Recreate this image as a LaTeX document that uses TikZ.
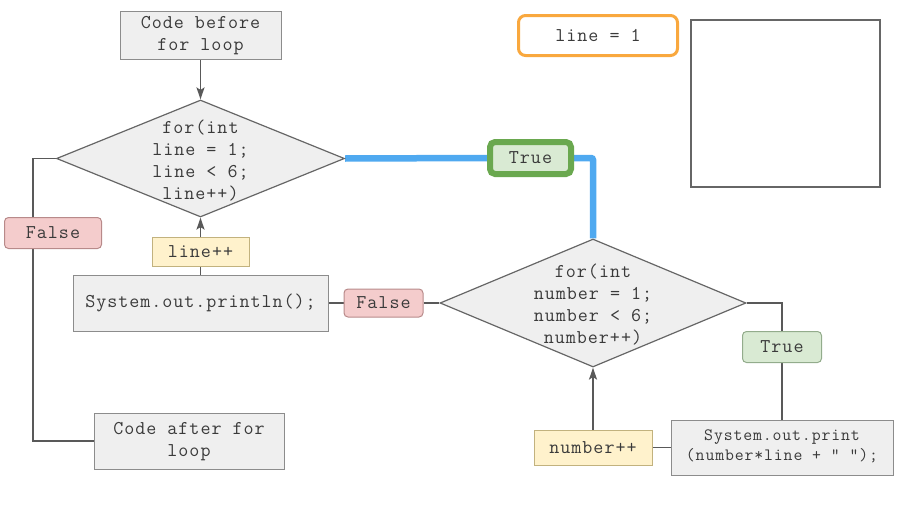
\documentclass[tikz,border=0pt]{standalone}
\usepackage{fontspec}
\setmonofont{Latin Modern Mono}[LetterSpace=5]
\usetikzlibrary{shapes.geometric,arrows.meta,backgrounds}
\definecolor{boxfill}{HTML}{EFEFEF}
\definecolor{boxline}{HTML}{8C8C8C}
\definecolor{dialine}{HTML}{666666}
\definecolor{conn}{HTML}{595959}
\definecolor{txt}{HTML}{3A3A3A}
\definecolor{pinkfill}{HTML}{F4CCCC}
\definecolor{pinkline}{HTML}{B88A8A}
\definecolor{yelfill}{HTML}{FFF2CC}
\definecolor{yelline}{HTML}{C2B27E}
\definecolor{grnfill}{HTML}{D9EAD3}
\definecolor{grnline}{HTML}{93AC8C}
\definecolor{grnthick}{HTML}{6AA84F}
\definecolor{orng}{HTML}{F9A83E}
\definecolor{blueln}{HTML}{4FA9F0}
\newcommand{\monotext}{\ttfamily\fontsize{19.5}{22}\selectfont}
\newcommand{\monosmall}{\ttfamily\fontsize{17.3}{20}\selectfont}
\begin{document}
\begin{tikzpicture}[x=1pt,y=-1pt,
  every node/.style={text=txt, font=\monotext, align=center, inner sep=0pt},
  box/.style={draw=boxline, fill=boxfill, line width=1pt},
  dia/.style={diamond, draw=dialine, fill=boxfill, line width=1.2pt},
  falsebox/.style={draw=pinkline, fill=pinkfill, line width=1pt, rounded corners=4pt},
  incbox/.style={draw=yelline, fill=yelfill, line width=1pt},
  truebox/.style={draw=grnline, fill=grnfill, line width=1pt, rounded corners=4pt},
  conline/.style={draw=conn, line width=1.5pt},
  arrowline/.style={conline, -{Stealth[length=12pt,width=8pt,inset=2.5pt]}},
  blueline/.style={draw=blueln, line width=6.5pt},
  twoline/.style={text depth=4pt}
]
\useasboundingbox (0,0) rectangle (900,506);

% nodes
\node[box, twoline, minimum width=161, minimum height=48] (before) at (200.5,35) {Code before\\for loop};
\node[dia, minimum width=288, minimum height=117,
      label={[align=center, yshift=-2pt]center:{for(int\\line = 1;\\line < 6;\\line++)}}] (d1) at (200.5,158.5) {};
\node[falsebox, minimum width=97, minimum height=31] (false1) at (53,233) {False};
\node[incbox, minimum width=97, minimum height=29] (lineinc) at (200.5,252) {line++};
\node[box, minimum width=255, minimum height=56] (println) at (200.5,303) {System.out.println();};
\node[falsebox, minimum width=79, minimum height=28] (false2) at (383.5,303) {False};
\node[box, twoline, minimum width=190, minimum height=56] (after) at (189,441) {Code after for\\loop};

\node[draw=grnthick, fill=grnfill, line width=6pt, rounded corners=5pt,
      minimum width=81, minimum height=32] (truebig) at (530.5,158) {True};

\node[dia, minimum width=306, minimum height=128,
      label={[align=center, yshift=-2pt]center:{for(int\\number = 1;\\number < 6;\\number++)}}] (d2) at (593,303) {};
\node[truebox, minimum width=79, minimum height=31] (true2) at (782,347) {True};
\node[box, twoline, minimum width=222, minimum height=55, font=\monosmall] (print) at (782,447.5) {System.out.print\\(number*line + " ");};
\node[incbox, minimum width=118, minimum height=35] (numinc) at (593,447.5) {number++};

\node[draw=orng, line width=3pt, rounded corners=7pt, fill=white,
      minimum width=159, minimum height=40] (lineval) at (598,35.5) {line = 1};
\node[draw=dialine, line width=1.5pt, minimum width=189, minimum height=167] (outbox) at (785.5,103.5) {};

\coordinate (lcA) at (33,158.5);
\coordinate (lcB) at (33,441);

% connectors
\begin{scope}[on background layer]
  \draw[arrowline] (before.south) -- (d1.north);
  \draw[conline] (d1.west) -- (lcA) -- (lcB) -- (after.west);
  \draw[arrowline] (lineinc.north) -- (d1.south);
  \draw[conline] (println.north) -- (lineinc.south);
  \draw[conline] (println.east) -- (false2.west);
  \draw[conline] (false2.east) -- (d2.west);
  \draw[blueline] (d1.east) -- (truebig.west);
  \draw[blueline, rounded corners=2pt] (truebig.east) -| (d2.north);
  \draw[conline] (d2.east) -| (print.north);
  \draw[conline] (print.west) -- (numinc.east);
  \draw[arrowline] (numinc.north) -- (d2.south);
\end{scope}
\end{tikzpicture}
\end{document}
